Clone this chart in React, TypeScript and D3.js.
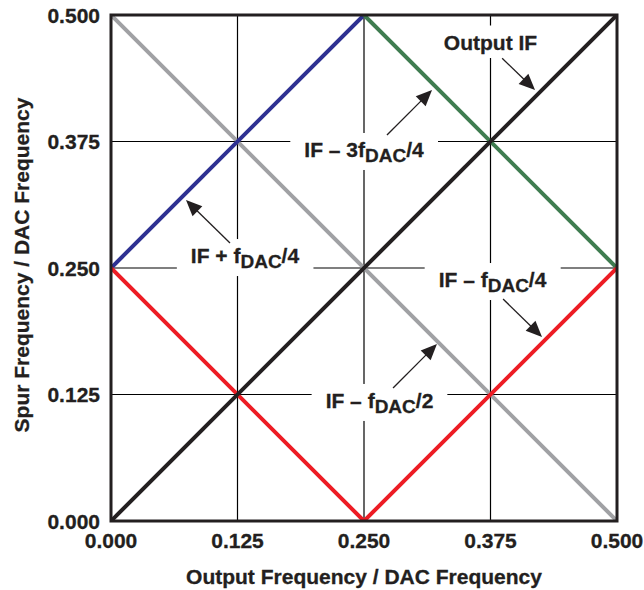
import React, { useEffect, useRef } from 'react';
import * as d3 from 'd3';

// Axis ticks
const tickValues = [0, 0.125, 0.25, 0.375, 0.5];
const tickLabels = ['0.000', '0.125', '0.250', '0.375', '0.500'];

// Series (x = output frequency / fDAC, y = spur frequency / fDAC)
const outputIfX = [0, 0.5];
const outputIfY = [0, 0.5];
const minusHalfX = [0, 0.5];
const minusHalfY = [0.5, 0];
const plusQuarterX = [0, 0.25];
const plusQuarterY = [0.25, 0.5];
const minus3QuarterX = [0.25, 0.5];
const minus3QuarterY = [0.5, 0.25];
const minusQuarterX = [0, 0.25, 0.5];
const minusQuarterY = [0.25, 0, 0.25];

const seriesX = [minusHalfX, plusQuarterX, minus3QuarterX, minusQuarterX, outputIfX];
const seriesY = [minusHalfY, plusQuarterY, minus3QuarterY, minusQuarterY, outputIfY];
const seriesColors = ['#a0a1a4', '#2e3192', '#3f7c50', '#ed1c24', '#231f20'];

// Annotations
const labelMain = ['Output IF', 'IF – 3f', 'IF + f', 'IF – f', 'IF – f'];
const labelSub = ['', 'DAC', 'DAC', 'DAC', 'DAC'];
const labelTail = ['', '/4', '/4', '/4', '/2'];
const labelX = [0.375, 0.25, 0.1324, 0.377, 0.2653];
const labelY = [0.4659, 0.3597, 0.2549, 0.2312, 0.1117];
const arrowFromX = [0.3865, 0.2727, 0.1176, 0.3874, 0.2787];
const arrowFromY = [0.4572, 0.3814, 0.2747, 0.2194, 0.1314];
const arrowToX = [0.419, 0.3172, 0.0741, 0.4259, 0.3221];
const arrowToY = [0.4259, 0.4259, 0.3172, 0.1818, 0.1749];

const xTitle = 'Output Frequency / DAC Frequency';
const yTitle = 'Spur Frequency / DAC Frequency';

const W = 644;
const H = 590;
const M = { left: 111, top: 15, right: 27, bottom: 69 };
const FONT = '"Liberation Sans", Arial, Helvetica, sans-serif';
const INK = '#231f20';
const FS = 21;

export default function App() {
  const ref = useRef<SVGSVGElement>(null);

  useEffect(() => {
    const svg = d3.select(ref.current);
    svg.selectAll('*').remove();

    const x = d3.scaleLinear().domain([0, 0.5]).range([M.left, W - M.right]);
    const y = d3.scaleLinear().domain([0, 0.5]).range([H - M.bottom, M.top]);
    const [x0, x1] = x.range();
    const [y0, y1] = y.range();

    svg.append('clipPath').attr('id', 'plotClip')
      .append('rect').attr('x', x0).attr('y', y1).attr('width', x1 - x0).attr('height', y0 - y1);

    // grid
    const grid = svg.append('g');
    tickValues.slice(1, -1).forEach((t) => {
      grid.append('line').attr('x1', x(t)).attr('x2', x(t)).attr('y1', y1).attr('y2', y0)
        .attr('stroke', '#000').attr('stroke-width', 1.2);
      grid.append('line').attr('x1', x0).attr('x2', x1).attr('y1', y(t)).attr('y2', y(t))
        .attr('stroke', '#000').attr('stroke-width', 1.2);
    });

    const bgLayer = svg.append('g');

    // series
    const line = d3.line<[number, number]>().x((d) => x(d[0])).y((d) => y(d[1]));
    const sg = svg.append('g').attr('clip-path', 'url(#plotClip)');
    seriesX.forEach((xs, i) => {
      const pts = xs.map((v, j) => [v, seriesY[i][j]] as [number, number]);
      sg.append('path').attr('d', line(pts) as string).attr('fill', 'none')
        .attr('stroke', seriesColors[i]).attr('stroke-width', 4).attr('stroke-linejoin', 'miter');
    });

    // frame
    svg.append('rect').attr('x', x0).attr('y', y1).attr('width', x1 - x0).attr('height', y0 - y1)
      .attr('fill', 'none').attr('stroke', INK).attr('stroke-width', 3);

    // tick labels
    const tg = svg.append('g').attr('font-family', FONT).attr('font-weight', 'bold')
      .attr('font-size', FS).attr('fill', INK).attr('stroke', INK).attr('stroke-width', 0.3);
    tickValues.forEach((t, i) => {
      tg.append('text').attr('x', x(t)).attr('y', y0 + 27).attr('text-anchor', 'middle').text(tickLabels[i]);
      tg.append('text').attr('x', x0 - 11).attr('y', y(t) + 7.5).attr('text-anchor', 'end').text(tickLabels[i]);
    });

    // titles
    tg.append('text').attr('x', (x0 + x1) / 2).attr('y', 584).attr('text-anchor', 'middle').text(xTitle);
    tg.append('text').attr('transform', `translate(29,${(y0 + y1) / 2 - 3}) rotate(-90)`)
      .attr('text-anchor', 'middle').text(yTitle);

    // annotations
    const ag = svg.append('g').attr('font-family', FONT).attr('font-weight', 'bold')
      .attr('font-size', FS).attr('fill', INK);
    labelMain.forEach((m, i) => {
      const t = ag.append('text').attr('x', x(labelX[i])).attr('y', y(labelY[i])).attr('text-anchor', 'middle')
        .attr('stroke', INK).attr('stroke-width', 0.3);
      t.append('tspan').text(m);
      if (labelSub[i]) {
        t.append('tspan').attr('dy', 5).attr('font-size', 19).text(labelSub[i]);
        t.append('tspan').attr('dy', -5).text(labelTail[i]);
      }
      const bb = (t.node() as SVGTextElement).getBBox();
      const base = y(labelY[i]);
      const bottom = labelSub[i] ? base + 13 : base + 8.5;
      bgLayer.append('rect').attr('x', bb.x - 14).attr('y', base - 24)
        .attr('width', bb.width + 28).attr('height', bottom - (base - 24)).attr('fill', '#fff');

      const fx = x(arrowFromX[i]);
      const fy = y(arrowFromY[i]);
      const tx = x(arrowToX[i]);
      const ty = y(arrowToY[i]);
      const dx = tx - fx;
      const dy = ty - fy;
      const len = Math.hypot(dx, dy);
      const ux = dx / len;
      const uy = dy / len;
      const hl = 16;
      const hw = 7;
      const bx = tx - ux * hl;
      const by = ty - uy * hl;
      ag.append('line').attr('x1', fx).attr('y1', fy).attr('x2', bx + ux * 2).attr('y2', by + uy * 2)
        .attr('stroke', INK).attr('stroke-width', 1.3);
      ag.append('path')
        .attr('d', `M${tx},${ty}L${bx - uy * hw},${by + ux * hw}L${bx + uy * hw},${by - ux * hw}Z`)
        .attr('fill', INK);
    });
  }, []);

  return (
    <svg ref={ref} width={W} height={H}
      style={{ position: 'absolute', left: 0, top: 0, background: '#fff', display: 'block' }} />
  );
}
